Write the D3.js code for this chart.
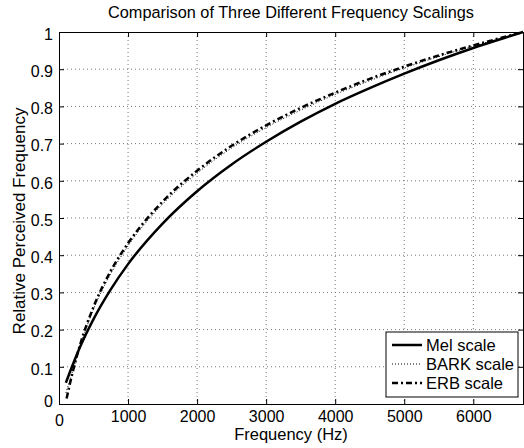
<!DOCTYPE html>
<html>
<head>
<meta charset="utf-8">
<script src="https://cdn.jsdelivr.net/npm/d3@7"></script>
<style>
  body { margin: 0; background: #fff; }
  text { font-family: "Liberation Sans", Arial, sans-serif; fill: #000; }
</style>
</head>
<body>
<div id="chart"></div>
<script>
// values (frequency in Hz, relative perceived frequency)
var freqs = [100, 200, 300, 500, 750, 1000, 1500, 2000, 2500, 3000, 3500, 4000, 4500, 5000, 5500, 6000, 6500, 6720];
var melVals = [0.057, 0.106, 0.151, 0.228, 0.308, 0.376, 0.485, 0.572, 0.644, 0.705, 0.759, 0.807, 0.849, 0.888, 0.924, 0.957, 0.987, 1.0];
var barkVals = [0.030, 0.090, 0.152, 0.255, 0.350, 0.425, 0.537, 0.620, 0.688, 0.743, 0.790, 0.832, 0.869, 0.903, 0.934, 0.962, 0.988, 1.0];
var erbFreqs = [110, 200, 300, 500, 750, 1000, 1500, 2000, 2500, 3000, 3500, 4000, 4500, 5000, 5500, 6000, 6500, 6720];
var erbVals = [0.015, 0.087, 0.156, 0.261, 0.358, 0.432, 0.544, 0.627, 0.694, 0.749, 0.796, 0.837, 0.874, 0.907, 0.937, 0.964, 0.989, 1.0];
var xTicks = [0, 1000, 2000, 3000, 4000, 5000, 6000];
var yTicks = [0, 0.1, 0.2, 0.3, 0.4, 0.5, 0.6, 0.7, 0.8, 0.9, 1];
var seriesNames = ["Mel scale", "BARK scale", "ERB scale"];

var width = 524, height = 448;
var margin = {top: 32, right: 1, bottom: 44, left: 59};
var w = width - margin.left - margin.right;
var h = height - margin.top - margin.bottom;

var svg = d3.select("#chart").append("svg")
    .attr("width", width)
    .attr("height", height);

var g = svg.append("g")
    .attr("transform", "translate(" + margin.left + "," + margin.top + ")");

var x = d3.scaleLinear().domain([0, 6720]).range([0, w]);
var y = d3.scaleLinear().domain([0, 1]).range([h, 0]);

// grid
g.append("g").selectAll("line")
    .data(xTicks.slice(1))
  .enter().append("line")
    .attr("x1", function(d) { return x(d); })
    .attr("x2", function(d) { return x(d); })
    .attr("y1", 0).attr("y2", h)
    .attr("stroke", "#777").attr("stroke-width", 1)
    .attr("stroke-dasharray", "1,3");

g.append("g").selectAll("line")
    .data(yTicks.slice(1, -1))
  .enter().append("line")
    .attr("x1", 0).attr("x2", w)
    .attr("y1", function(d) { return y(d); })
    .attr("y2", function(d) { return y(d); })
    .attr("stroke", "#777").attr("stroke-width", 1)
    .attr("stroke-dasharray", "1,3");

// axes (ticks inward)
var xAxis = d3.axisBottom(x).tickValues(xTicks).tickSize(-5).tickPadding(7).tickFormat(d3.format("d"));
var yAxis = d3.axisLeft(y).tickValues(yTicks).tickSize(-5).tickPadding(6).tickFormat(function(d) { return d3.format("")(d); });

var gx = g.append("g").attr("transform", "translate(0," + h + ")").call(xAxis);
var gy = g.append("g").call(yAxis);
g.append("g").call(d3.axisTop(x).tickValues(xTicks).tickSize(-5).tickFormat(""));
g.append("g").attr("transform", "translate(" + w + ",0)")
    .call(d3.axisRight(y).tickValues(yTicks).tickSize(-5).tickFormat(""));

svg.selectAll(".domain").attr("stroke", "#000").attr("stroke-width", 1);
svg.selectAll(".tick line").attr("stroke", "#000");
gx.selectAll("text").style("font-size", "16px").attr("dy", "0.71em");
gy.selectAll("text").style("font-size", "16px").attr("dy", "0.45em");
gx.selectAll(".tick").filter(function(d) { return d === 0; }).select("text").attr("dy", "0.95em");
gy.selectAll(".tick").filter(function(d) { return d === 0; }).select("text").attr("dy", "0.15em");

// curves
var line = d3.line()
    .x(function(d) { return x(d[0]); })
    .y(function(d) { return y(d[1]); })
    .curve(d3.curveMonotoneX);

var curves = g.append("g");

curves.append("path")
    .datum(d3.zip(freqs, barkVals))
    .attr("d", line)
    .attr("fill", "none").attr("stroke", "#000")
    .attr("stroke-width", 1).attr("stroke-dasharray", "1,2");

curves.append("path")
    .datum(d3.zip(erbFreqs, erbVals))
    .attr("d", line)
    .attr("fill", "none").attr("stroke", "#000")
    .attr("stroke-width", 2.5).attr("stroke-dasharray", "6,3,2,3");

curves.append("path")
    .datum(d3.zip(freqs, melVals))
    .attr("d", line)
    .attr("fill", "none").attr("stroke", "#000")
    .attr("stroke-width", 2.5);

// legend
var legend = g.append("g")
    .attr("transform", "translate(" + (386 - margin.left) + "," + (332 - margin.top) + ")");
legend.append("rect")
    .attr("width", 132).attr("height", 65)
    .attr("fill", "#fff").attr("stroke", "#000").attr("stroke-width", 1);

var styles = [
  {width: 2.5, dash: null},
  {width: 1, dash: "1,2"},
  {width: 2.5, dash: "6,3,2,3"}
];
seriesNames.forEach(function(name, i) {
  var yy = 13 + i * 19;
  legend.append("line")
      .attr("x1", 6).attr("x2", 36)
      .attr("y1", yy).attr("y2", yy)
      .attr("stroke", "#000")
      .attr("stroke-width", styles[i].width)
      .attr("stroke-dasharray", styles[i].dash);
  legend.append("text")
      .attr("x", 40).attr("y", yy)
      .attr("dy", "0.36em")
      .style("font-size", "16.5px")
      .text(name);
});

// labels
svg.append("text")
    .attr("x", margin.left + w / 2).attr("y", 18)
    .attr("text-anchor", "middle")
    .style("font-size", "16.3px")
    .text("Comparison of Three Different Frequency Scalings");

svg.append("text")
    .attr("x", margin.left + w / 2).attr("y", 440)
    .attr("text-anchor", "middle")
    .style("font-size", "16.5px")
    .text("Frequency (Hz)");

svg.append("text")
    .attr("transform", "translate(25," + 221 + ") rotate(-90)")
    .attr("text-anchor", "middle")
    .style("font-size", "17px")
    .text("Relative Perceived Frequency");
</script>
</body>
</html>
